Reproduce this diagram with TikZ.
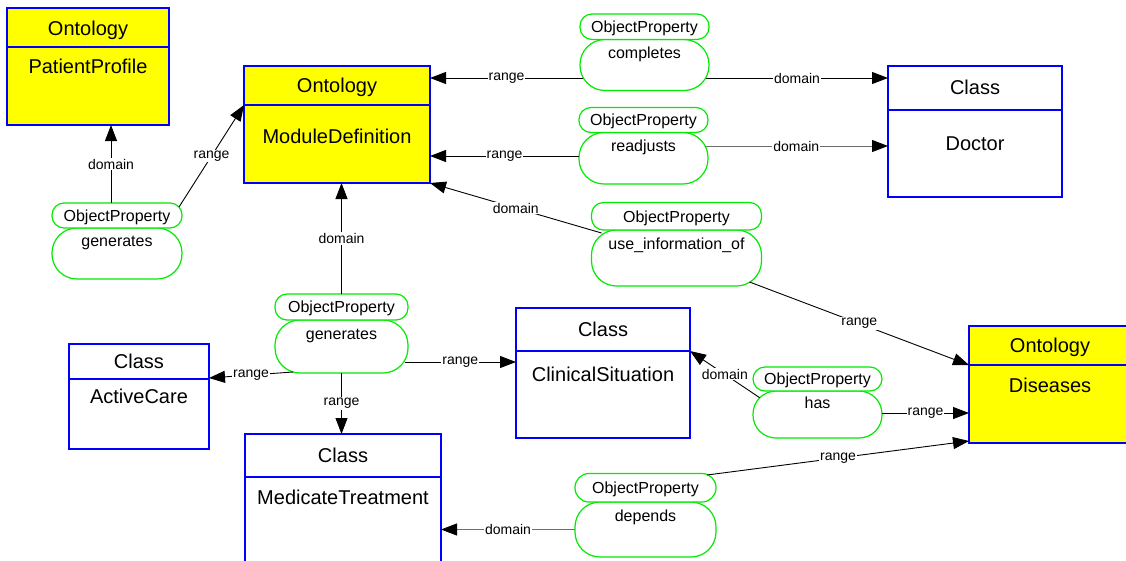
\documentclass[tikz,border=0pt]{standalone}
\usepackage{fontspec}
\setmainfont{Liberation Sans}
\usetikzlibrary{arrows.meta,calc}
\definecolor{boxblue}{RGB}{0,0,255}
\definecolor{propgreen}{RGB}{0,235,0}
\definecolor{ontyellow}{RGB}{255,255,0}
\definecolor{linegray}{RGB}{110,110,110}

\tikzset{
  frame/.style={rectangle, draw=boxblue, line width=1.2pt, inner sep=0pt, outer sep=0pt},
  classbox/.style={frame, fill=white},
  ontbox/.style={frame, fill=ontyellow},
  divider/.style={draw=boxblue, line width=1.2pt},
  boxtext/.style={font=\fontsize{20}{22}\selectfont, inner sep=0pt, anchor=base},
  pilltop/.style={rectangle, draw=propgreen, line width=1.2pt, fill=white, rounded corners=12pt, inner sep=0pt, outer sep=0pt},
  pillbody/.style={rectangle, draw=propgreen, line width=1.2pt, fill=white, rounded corners=25pt, inner sep=0pt, outer sep=0pt},
  proptext/.style={font=\fontsize{16}{18}\selectfont, inner sep=0pt, anchor=base},
  rel/.style={draw=black, line width=0.9pt, -{Triangle[length=16pt,width=12pt,color=black]}},
  relgray/.style={rel, draw=linegray},
  lbl/.style={font=\fontsize{14}{16}\selectfont, fill=white, inner sep=1pt, text=black},
}

\begin{document}
\begin{tikzpicture}[x=1pt,y=-1pt]
\useasboundingbox (0,0) rectangle (1126,560);
\clip (0,0) rectangle (1126,560);
\fill[white] (0,0) rectangle (1126,560);

% ---------- ontologies and classes ----------
\node[ontbox, minimum width=162pt, minimum height=117pt] (pp) at (88,66.5) {};
\draw[divider] ([yshift=-39pt]pp.north west) -- ([yshift=-39pt]pp.north east);
\node[boxtext] (pp-t) at (88,35) {Ontology};
\node[boxtext] (pp-n) at (88,73) {PatientProfile};

\node[ontbox, minimum width=186pt, minimum height=117pt] (md) at (337,124.5) {};
\draw[divider] ([yshift=-39pt]md.north west) -- ([yshift=-39pt]md.north east);
\node[boxtext] (md-t) at (337,92) {Ontology};
\node[boxtext] (md-n) at (337,143) {ModuleDefinition};

\node[classbox, minimum width=174pt, minimum height=131pt] (doc) at (975,131.5) {};
\draw[divider] ([yshift=-44pt]doc.north west) -- ([yshift=-44pt]doc.north east);
\node[boxtext] (doc-t) at (975,94) {Class};
\node[boxtext] (doc-n) at (975,150.5) {Doctor};

\node[classbox, minimum width=174pt, minimum height=130pt] (cs) at (603,373) {};
\draw[divider] ([yshift=-43pt]cs.north west) -- ([yshift=-43pt]cs.north east);
\node[boxtext] (cs-t) at (603,336) {Class};
\node[boxtext] (cs-n) at (603,381) {ClinicalSituation};

\node[classbox, minimum width=140pt, minimum height=105pt] (ac) at (139,396.5) {};
\draw[divider] ([yshift=-35pt]ac.north west) -- ([yshift=-35pt]ac.north east);
\node[boxtext] (ac-t) at (139,368) {Class};
\node[boxtext] (ac-n) at (139,403) {ActiveCare};

\node[classbox, minimum width=196pt, minimum height=136pt] (mt) at (343,502) {};
\draw[divider] ([yshift=-43pt]mt.north west) -- ([yshift=-43pt]mt.north east);
\node[boxtext] (mt-t) at (343,462) {Class};
\node[boxtext] (mt-n) at (343,504) {MedicateTreatment};

\node[ontbox, minimum width=162pt, minimum height=117pt] (dis) at (1050,384.5) {};
\draw[divider] ([yshift=-39pt]dis.north west) -- ([yshift=-39pt]dis.north east);
\node[boxtext] (dis-t) at (1050,352) {Ontology};
\node[boxtext] (dis-n) at (1050,392) {Diseases};

% ---------- object properties ----------
\node[pillbody, minimum width=130pt, minimum height=51pt] (g1b) at (117,253.5) {};
\node[pilltop, minimum width=130pt, minimum height=25pt] (g1t) at (117,215.5) {};
\node[proptext] at (117,221.2) {ObjectProperty};
\node[proptext] at (117,246) {generates};

\node[pillbody, minimum width=129pt, minimum height=51pt] (cob) at (644.5,65) {};
\node[pilltop, minimum width=129pt, minimum height=25.5pt] (cot) at (644.5,26.75) {};
\node[proptext] at (644.5,32.5) {ObjectProperty};
\node[proptext] at (644.5,58.3) {completes};

\node[pillbody, minimum width=129pt, minimum height=51.5pt] (rab) at (643.5,158.25) {};
\node[pilltop, minimum width=129pt, minimum height=25pt] (rat) at (643.5,120) {};
\node[proptext] at (643.5,125.7) {ObjectProperty};
\node[proptext] at (643.5,151.5) {readjusts};

\node[pillbody, minimum width=170pt, minimum height=56pt] (uib) at (676.5,258) {};
\node[pilltop, minimum width=170pt, minimum height=27.5pt] (uit) at (676.5,216.25) {};
\node[proptext] at (676.5,222) {ObjectProperty};
\node[proptext] at (676.5,249) {use\_information\_of};

\node[pillbody, minimum width=133pt, minimum height=53pt] (g2b) at (341.5,346.5) {};
\node[pilltop, minimum width=133pt, minimum height=26pt] (g2t) at (341.5,307) {};
\node[proptext] at (341.5,312.7) {ObjectProperty};
\node[proptext] at (341.5,339) {generates};

\node[pillbody, minimum width=129pt, minimum height=47pt, rounded corners=23pt] (hab) at (817.5,414.5) {};
\node[pilltop, minimum width=129pt, minimum height=24pt] (hat) at (817.5,379) {};
\node[proptext] at (817.5,384.7) {ObjectProperty};
\node[proptext] at (817.5,408) {has};

\node[pillbody, minimum width=141pt, minimum height=55pt] (deb) at (645.5,529.5) {};
\node[pilltop, minimum width=141pt, minimum height=28.5pt, rounded corners=14pt] (det) at (645.5,487.75) {};
\node[proptext] at (645.5,493.5) {ObjectProperty};
\node[proptext] at (645.5,521) {depends};

% ---------- domain and range links ----------
\draw[rel] ([xshift=-6pt]g1t.north) -- ([xshift=23pt]pp.south)
  node[lbl, pos=0.5] {domain};
\draw[rel] ([xshift=-3pt,yshift=-4pt]g1t.north east) -- ([yshift=-39pt]md.north west)
  node[lbl, pos=0.5] {range};

\draw[rel] ([xshift=3pt,yshift=-13pt]cob.west) -- ([yshift=-12pt]md.north east)
  node[lbl, pos=0.5] {range};
\draw[rel] ([xshift=-3pt,yshift=-13pt]cob.east) -- ([yshift=-12pt]doc.north west)
  node[lbl, pos=0.5] {domain};

\draw[rel] ([yshift=2.25pt]rab.west) -- ([yshift=-90pt]md.north east)
  node[lbl, pos=0.5] {range};
\draw[relgray] ([xshift=-3.5pt,yshift=12.25pt]rab.east) -- ([yshift=-80pt]doc.north west)
  node[lbl, pos=0.5] {domain};

\draw[rel] ([xshift=10pt,yshift=-3pt]uib.north west) -- (md.south east)
  node[lbl, pos=0.5] {domain};
\draw[rel] ([xshift=-12pt,yshift=4pt]uib.south east) -- ([yshift=-39pt]dis.north west)
  node[lbl, pos=0.5] {range};

\draw[rel] (g2t.north) -- ([xshift=4.5pt]md.south)
  node[lbl, pos=0.5] {domain};
\draw[rel] ([xshift=18pt,yshift=1pt]g2b.south west) -- ([yshift=-34pt]ac.north east)
  node[lbl, pos=0.5] {range};
\draw[rel] ([xshift=-3.5pt,yshift=-15.5pt]g2b.east) -- ([yshift=-54pt]cs.north west)
  node[lbl, pos=0.5] {range};
\draw[rel] (g2b.south) -- ([xshift=-1.5pt]mt.north)
  node[lbl, pos=0.5] {range};

\draw[rel] ([xshift=6.7pt,yshift=-6.7pt]hab.north west) -- ([yshift=-43pt]cs.north east)
  node[lbl, pos=0.5] {domain};
\draw[rel] ([yshift=1.5pt]hab.east) -- ([yshift=-28.5pt]dis.west)
  node[lbl, pos=0.5] {range};

\draw[rel] ([xshift=-9pt,yshift=-1.5pt]det.north east) -- ([yshift=2pt]dis.south west)
  node[lbl, pos=0.5] {range};
\draw[relgray] (deb.west) -- ([yshift=-27.5pt]mt.east)
  node[lbl, pos=0.5] {domain};
\end{tikzpicture}
\end{document}
